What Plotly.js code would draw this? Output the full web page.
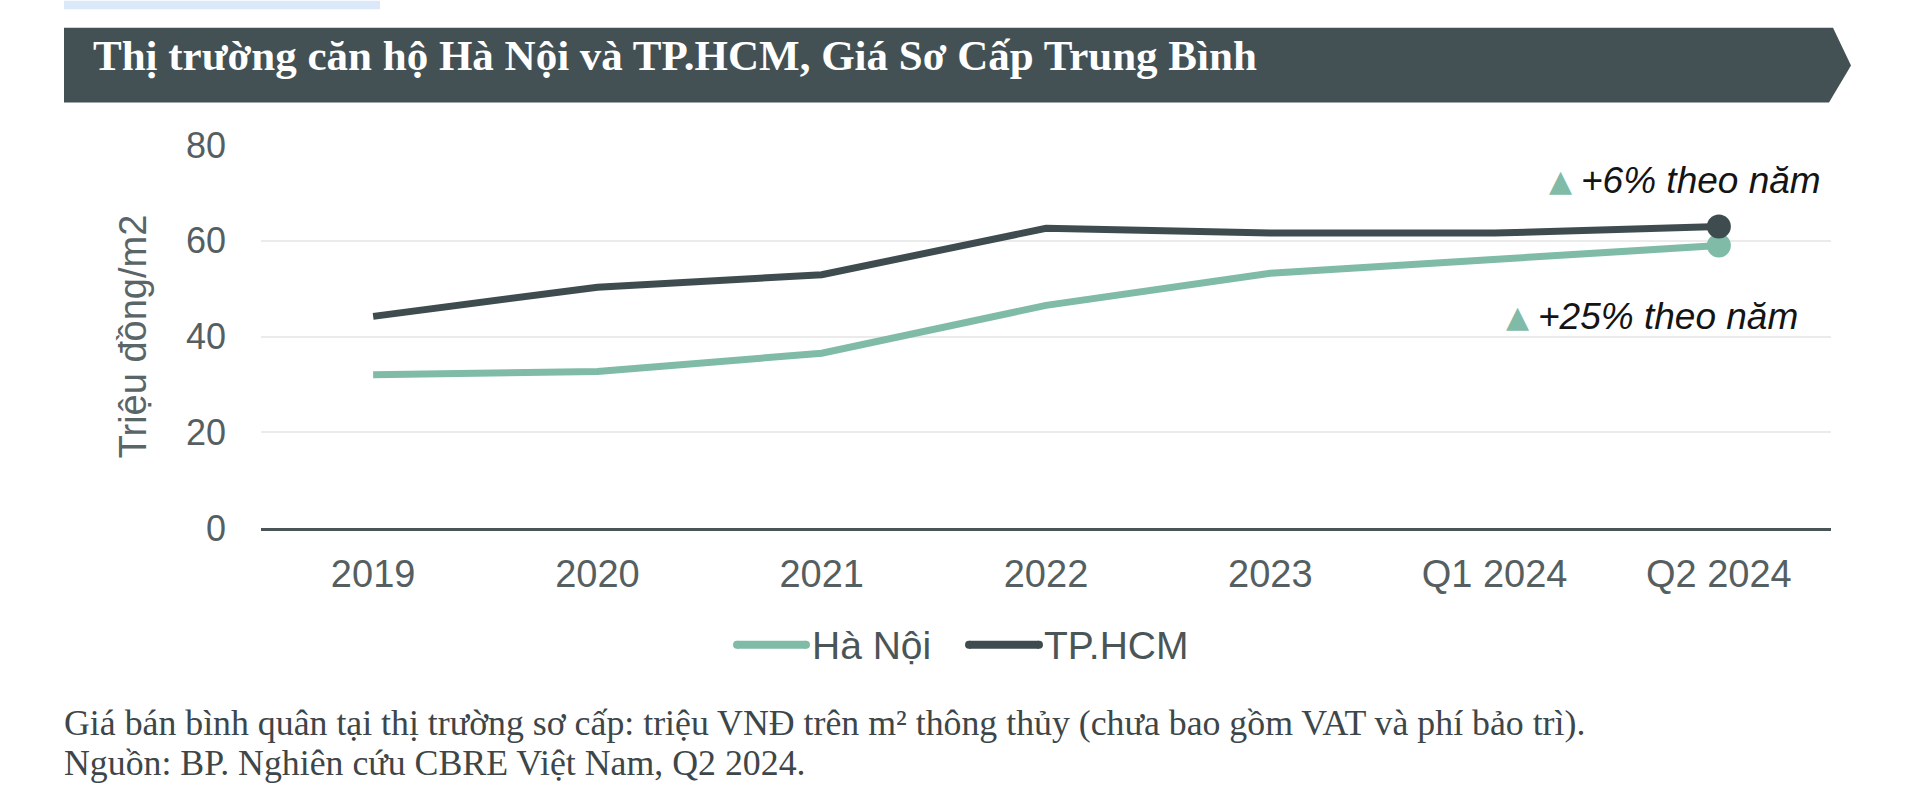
<!DOCTYPE html>
<html>
<head>
<meta charset="utf-8">
<script src="https://cdn.plot.ly/plotly-3.0.1.min.js"></script>
<style>html,body{margin:0;padding:0;background:#fff;}#chart{width:1920px;height:800px;}</style>
</head>
<body>
<div id="chart"></div>
<script>
// ---- data ----
const categories = ["2019", "2020", "2021", "2022", "2023", "Q1 2024", "Q2 2024"];
const haNoi = [32, 32.7, 36.5, 46.5, 53.2, 56.2, 59];
const tpHCM = [44.2, 50.3, 52.9, 62.6, 61.6, 61.6, 63];
const yTicks = [0, 20, 40, 60, 80];
const seriesNames = ["Hà Nội", "TP.HCM"];
const growthLabels = ["+6% theo năm", "+25% theo năm"];
const chartTitle = "Thị trường căn hộ Hà Nội và TP.HCM, Giá Sơ Cấp Trung Bình";
const yTitle = "Triệu đồng/m2";
const note1 = "Giá bán bình quân tại thị trường sơ cấp: triệu VNĐ trên m² thông thủy (chưa bao gồm VAT và phí bảo trì).";
const note2 = "Nguồn: BP. Nghiên cứu CBRE Việt Nam, Q2 2024.";

// ---- layout helpers (pixel -> paper) ----
const W = 1920, H = 800;
const L = 261, R = 1831, T = 144.5, B = 528;
const px = x => (x - L) / (R - L);
const py = y => (B - y) / (B - T);

const GREEN = "#7fbba7";
const DARK = "#3f4c4f";
const AXIS_TXT = "#555f62";
const SANS = "Liberation Sans, Arial, sans-serif";
const SERIF = "Liberation Serif, Times New Roman, serif";
const colors = [GREEN, DARK];

const last = categories.length - 1;
const traces = [
  {x: categories, y: haNoi, name: seriesNames[0], type: "scatter", mode: "lines",
   line: {color: GREEN, width: 7}},
  {x: categories, y: tpHCM, name: seriesNames[1], type: "scatter", mode: "lines",
   line: {color: DARK, width: 7}},
  {x: [categories[last]], y: [haNoi[last]], type: "scatter", mode: "markers", showlegend: false,
   marker: {color: GREEN, size: 24}, hoverinfo: "skip"},
  {x: [categories[last]], y: [tpHCM[last]], type: "scatter", mode: "markers", showlegend: false,
   marker: {color: DARK, size: 24}, hoverinfo: "skip"}
];

const bannerPath = `M${px(64)},${py(27)} L${px(1833)},${py(27)} L${px(1851)},${py(65)} L${px(1829)},${py(102)} L${px(64)},${py(102)} Z`;

// custom legend (long line keys as in the reference)
const legendKeys = [{x0: 737, x1: 806, tx: 810}, {x0: 969, x1: 1039, tx: 1042}];
const legendShapes = legendKeys.map((k, i) => ({
  type: "line", xref: "paper", yref: "paper", x0: px(k.x0), x1: px(k.x1), y0: py(645), y1: py(645),
  line: {color: colors[i], width: 8}
}));
const legendCaps = [];
legendKeys.forEach((k, i) => {
  [k.x0, k.x1].forEach(cx => legendCaps.push({
    type: "circle", xref: "paper", yref: "paper", x0: px(cx - 4), x1: px(cx + 4), y0: py(649), y1: py(641),
    fillcolor: colors[i], line: {width: 0}
  }));
});
const legendTexts = legendKeys.map((k, i) => ({
  xref: "paper", yref: "paper", x: px(k.tx), y: py(646), xanchor: "left", yanchor: "middle",
  text: seriesNames[i], showarrow: false, font: {family: SANS, size: 39, color: "#4a5558"}
}));

const layout = {
  width: W, height: H,
  margin: {l: L, r: W - R, t: T, b: H - B, pad: 0},
  paper_bgcolor: "#ffffff", plot_bgcolor: "#ffffff",
  showlegend: false,
  xaxis: {type: "category", range: [-0.5, categories.length - 0.5], showgrid: false,
          showline: true, linecolor: "#4a5558", linewidth: 3, zeroline: false,
          tickfont: {family: SANS, size: 38, color: AXIS_TXT}, ticks: "", ticklabelstandoff: 10,
          fixedrange: true},
  yaxis: {range: [0, 80], tickvals: yTicks, showgrid: true, gridcolor: "#ebebeb", gridwidth: 2,
          zeroline: false, showline: false, ticks: "",
          tickfont: {family: SANS, size: 36, color: AXIS_TXT}, ticklabelstandoff: 34,
          title: {text: yTitle, font: {family: SANS, size: 38, color: "#5a6568"}, standoff: 27},
          fixedrange: true},
  shapes: [
    {type: "rect", xref: "paper", yref: "paper", x0: px(64), x1: px(380), y0: py(0), y1: py(8.5),
     fillcolor: "#dbe8fa", line: {width: 0}, layer: "above"},
    {type: "path", xref: "paper", yref: "paper", path: bannerPath, fillcolor: "#435154",
     line: {width: 0}, layer: "above"}
  ].concat(legendShapes, legendCaps),
  annotations: [
    {xref: "paper", yref: "paper", x: px(91), y: py(55), xanchor: "left", yanchor: "middle",
     text: chartTitle, showarrow: false,
     font: {family: SERIF, size: 43, color: "#ffffff", weight: 700}},
    {xref: "paper", yref: "paper", x: px(1560), y: py(180), xanchor: "center", yanchor: "middle",
     text: "▲", showarrow: false, font: {family: "DejaVu Sans", size: 30, color: GREEN}},
    {xref: "paper", yref: "paper", x: px(1579), y: py(180), xanchor: "left", yanchor: "middle",
     text: `<i>${growthLabels[0]}</i>`, showarrow: false,
     font: {family: SANS, size: 37, color: "#141414"}},
    {xref: "paper", yref: "paper", x: px(1517), y: py(316), xanchor: "center", yanchor: "middle",
     text: "▲", showarrow: false, font: {family: "DejaVu Sans", size: 30, color: GREEN}},
    {xref: "paper", yref: "paper", x: px(1536), y: py(316), xanchor: "left", yanchor: "middle",
     text: `<i>${growthLabels[1]}</i>`, showarrow: false,
     font: {family: SANS, size: 37, color: "#141414"}},
    {xref: "paper", yref: "paper", x: px(62), y: py(723), xanchor: "left", yanchor: "middle",
     text: note1, showarrow: false, font: {family: SERIF, size: 35.8, color: "#3d4649"}},
    {xref: "paper", yref: "paper", x: px(62), y: py(763), xanchor: "left", yanchor: "middle",
     text: note2, showarrow: false, font: {family: SERIF, size: 35.8, color: "#3d4649"}}
  ].concat(legendTexts)
};

Plotly.newPlot("chart", traces, layout, {displayModeBar: false, staticPlot: true});
</script>
</body>
</html>
